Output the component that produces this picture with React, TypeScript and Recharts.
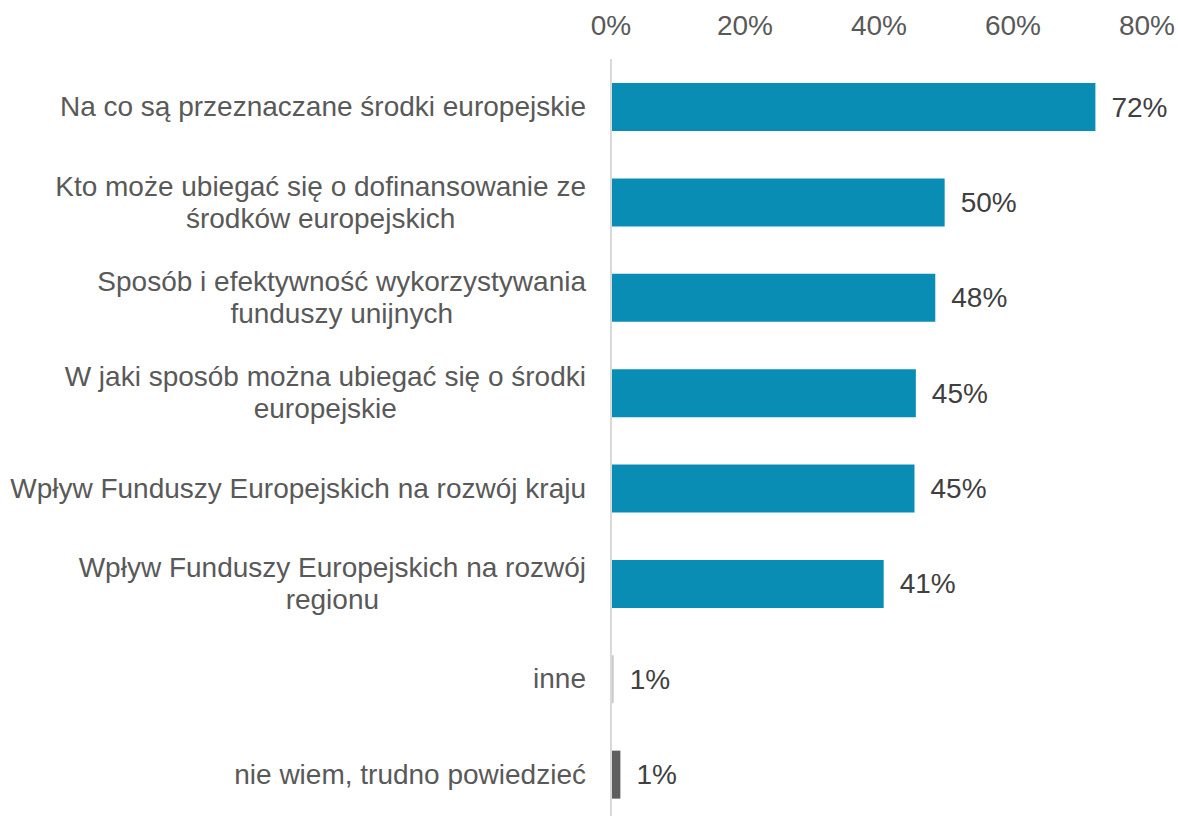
import React from "react";
import { BarChart, Bar, XAxis, YAxis, Cell, LabelList } from "recharts";

const categories = [
  "Na co są przeznaczane środki europejskie",
  "Kto może ubiegać się o dofinansowanie ze\nśrodków europejskich",
  "Sposób i efektywność wykorzystywania\nfunduszy unijnych",
  "W jaki sposób można ubiegać się o środki\neuropejskie",
  "Wpływ Funduszy Europejskich na rozwój kraju",
  "Wpływ Funduszy Europejskich na rozwój\nregionu",
  "inne",
  "nie wiem, trudno powiedzieć",
];
const values = [72.3, 49.8, 48.4, 45.5, 45.3, 40.7, 0.4, 1.4];
const valueLabels = ["72%", "50%", "48%", "45%", "45%", "41%", "1%", "1%"];
const barColors = ["#0A8DB5", "#0A8DB5", "#0A8DB5", "#0A8DB5", "#0A8DB5", "#0A8DB5", "#C9C9C9", "#5F5F5F"];
const xTicks = [0, 20, 40, 60, 80];

const data = categories.map((c, i) => ({ name: c, value: values[i], label: valueLabels[i] }));

const FONT = "'Liberation Sans', Arial, sans-serif";
const FS = 28;

let ctx: CanvasRenderingContext2D | null = null;
function measure(t: string): number {
  if (!ctx) {
    const c = document.createElement("canvas");
    ctx = c.getContext("2d");
  }
  if (!ctx) return t.length * FS * 0.5;
  ctx.font = `${FS}px ${FONT}`;
  return ctx.measureText(t).width;
}

const YTick = (props: any) => {
  const { y, payload } = props;
  const lines: string[] = String(payload.value).split("\n");
  const right = 586;
  const maxW = Math.max(...lines.map(measure));
  const cx = right - maxW / 2;
  const lh = 32;
  const startY = y - ((lines.length - 1) * lh) / 2;
  return (
    <g>
      {lines.map((l, i) => (
        <text
          key={i}
          x={cx}
          y={startY + i * lh}
          textAnchor="middle"
          dominantBaseline="central"
          fontFamily={FONT}
          fontSize={FS}
          fill="#595959"
        >
          {l}
        </text>
      ))}
    </g>
  );
};

const XTick = (props: any) => {
  const { x, payload } = props;
  return (
    <text x={x} y={35} textAnchor="middle" fontFamily={FONT} fontSize={FS} fill="#595959">
      {`${payload.value}%`}
    </text>
  );
};

const ValueLabel = (props: any) => {
  const { x, y, width, height, index } = props;
  return (
    <text
      x={x + width + 16}
      y={y + height / 2}
      dominantBaseline="central"
      fontFamily={FONT}
      fontSize={FS}
      fill="#404040"
    >
      {valueLabels[index]}
    </text>
  );
};

export default function App() {
  return (
    <div style={{ position: "absolute", left: 0, top: 0, width: 1178, height: 816, overflow: "hidden", background: "#fff" }}>
      <BarChart
        width={1178}
        height={822}
        data={data}
        layout="vertical"
        margin={{ top: 0, right: 31, left: 0, bottom: 0 }}
      >
        <XAxis
          type="number"
          orientation="top"
          domain={[0, 80]}
          ticks={xTicks}
          axisLine={false}
          tickLine={false}
          height={59}
          tick={<XTick />}
          interval={0}
        />
        <YAxis
          type="category"
          dataKey="name"
          width={611}
          axisLine={{ stroke: "#D9D9D9", strokeWidth: 2 }}
          tickLine={false}
          tick={<YTick />}
          interval={0}
        />
        <Bar dataKey="value" barSize={48} isAnimationActive={false}>
          {data.map((d, i) => (
            <Cell key={i} fill={barColors[i]} />
          ))}
          <LabelList dataKey="label" content={<ValueLabel />} />
        </Bar>
      </BarChart>
    </div>
  );
}
